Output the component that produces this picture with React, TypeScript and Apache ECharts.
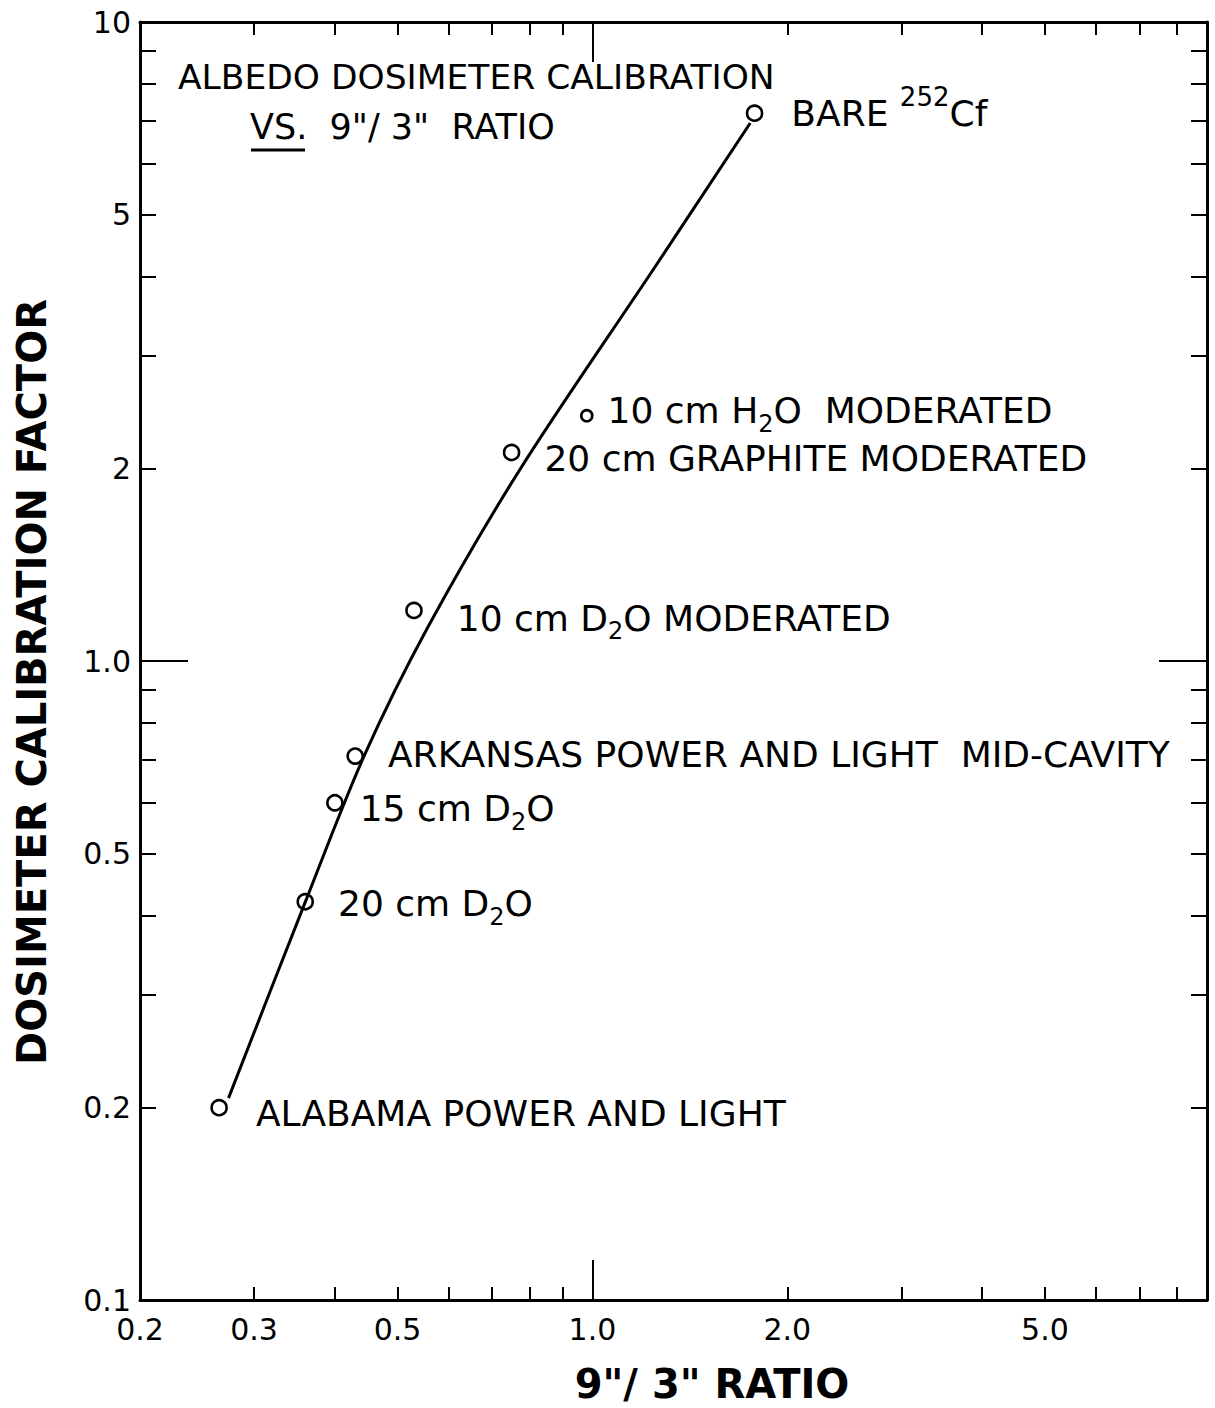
import React, { useEffect, useRef } from "react";
import * as echarts from "echarts";

const FONT = "DejaVu Sans";
const INK = "#000";

const X_MIN = 0.2;
const X_MAX = 8.9;
const Y_MIN = 0.1;
const Y_MAX = 10;

const xLabelValues = [0.2, 0.3, 0.5, 1, 2, 5];
const xLabelTexts = ["0.2", "0.3", "0.5", "1.0", "2.0", "5.0"];
const xMinorTicks = [0.3, 0.4, 0.5, 0.6, 0.7, 0.8, 0.9, 2, 3, 4, 5, 6, 7, 8];
const xMajorTicks = [1];

const yLabelValues = [0.1, 0.2, 0.5, 1, 2, 5, 10];
const yLabelTexts = ["0.1", "0.2", "0.5", "1.0", "2", "5", "10"];
const yMinorTicks = [0.2, 0.3, 0.4, 0.5, 0.6, 0.7, 0.8, 0.9, 2, 3, 4, 5, 6, 7, 8, 9];
const yMajorTicks = [1];

// measured points (9"/3" ratio, calibration factor)
const pointX = [1.78, 0.98, 0.75, 0.53, 0.43, 0.40, 0.36, 0.265];
const pointY = [7.2, 2.42, 2.12, 1.2, 0.71, 0.60, 0.42, 0.20];
const pointLabels = [
  "{t|BARE }{sp|252}{t|Cf}",
  "{t|10 cm H}{sb|2}{t|O  MODERATED}",
  "{t|20 cm GRAPHITE MODERATED}",
  "{t|10 cm D}{sb|2}{t|O MODERATED}",
  "{t|ARKANSAS POWER AND LIGHT  MID-CAVITY}",
  "{t|15 cm D}{sb|2}{t|O}",
  "{t|20 cm D}{sb|2}{t|O}",
  "{t|ALABAMA POWER AND LIGHT}",
];

// hand-drawn fitted curve
const curveX = [0.274, 0.361, 0.443, 0.557, 0.777, 1.249, 1.753];
const curveY = [0.207, 0.4225, 0.707, 1.13, 2.012, 4.136, 6.95];

// label styling (kept apart from data)
const pointSizes = [15, 11, 15, 15, 15, 15, 15, 15];
const labelDistance = [28, 14, 24, 34, 24, 16, 24, 28];
const labelDy = [0, -5, 6, 8, -2, 6, 2, 6];

function findText(values: number[], texts: string[], v: number) {
  for (let i = 0; i < values.length; i++) {
    if (Math.abs(values[i] - v) / values[i] < 1e-4) return texts[i];
  }
  return "";
}

function xAxisDef(position: string, ticks: number[], len: number, showLabel: boolean, showLine: boolean) {
  return {
    type: "log",
    logBase: 10,
    min: X_MIN,
    max: X_MAX,
    position,
    gridIndex: 0,
    axisLine: { show: showLine, lineStyle: { color: INK, width: 3 } },
    axisTick: { show: true, inside: true, length: len, customValues: ticks, lineStyle: { color: INK, width: 2 } },
    axisLabel: {
      show: showLabel,
      customValues: xLabelValues,
      margin: 14,
      fontFamily: FONT,
      fontSize: 30,
      color: INK,
      formatter: (v: number) => findText(xLabelValues, xLabelTexts, v),
    },
    splitLine: { show: false },
    minorTick: { show: false },
  };
}

function yAxisDef(position: string, ticks: number[], len: number, showLabel: boolean, showLine: boolean) {
  return {
    type: "log",
    logBase: 10,
    min: Y_MIN,
    max: Y_MAX,
    position,
    gridIndex: 0,
    axisLine: { show: showLine, lineStyle: { color: INK, width: 3 } },
    axisTick: { show: true, inside: true, length: len, customValues: ticks, lineStyle: { color: INK, width: 2 } },
    axisLabel: {
      show: showLabel,
      customValues: yLabelValues,
      margin: 9,
      fontFamily: FONT,
      fontSize: 30,
      color: INK,
      formatter: (v: number) => findText(yLabelValues, yLabelTexts, v),
    },
    splitLine: { show: false },
    minorTick: { show: false },
  };
}

const rich = {
  t: { fontFamily: FONT, fontSize: 36, color: INK, lineHeight: 38, verticalAlign: "middle" },
  sb: { fontFamily: FONT, fontSize: 24, color: INK, lineHeight: 10, verticalAlign: "middle", padding: [26, 0, 0, 0] },
  sp: { fontFamily: FONT, fontSize: 26, color: INK, lineHeight: 10, verticalAlign: "middle", padding: [0, 0, 32, 0] },
};

export default function App() {
  const ref = useRef<HTMLDivElement>(null);
  useEffect(() => {
    if (!ref.current) return;
    const chart = echarts.init(ref.current, null, { renderer: "svg" });
    const option: any = {
      animation: false,
      backgroundColor: "#fff",
      grid: { left: 140, top: 22, right: 8, bottom: 108, containLabel: false, outerBoundsMode: "none" },
      xAxis: [
        xAxisDef("bottom", xMinorTicks, 13, true, true),
        xAxisDef("top", xMinorTicks, 13, false, true),
        xAxisDef("bottom", xMajorTicks, 40, false, false),
        xAxisDef("top", xMajorTicks, 40, false, false),
      ],
      yAxis: [
        yAxisDef("left", yMinorTicks, 16, true, true),
        yAxisDef("right", yMinorTicks, 16, false, true),
        yAxisDef("left", yMajorTicks, 48, false, false),
        yAxisDef("right", yMajorTicks, 48, false, false),
      ],
      series: [
        {
          type: "line",
          xAxisIndex: 0,
          yAxisIndex: 0,
          data: curveX.map((x, i) => [x, curveY[i]]),
          smooth: 0.3,
          showSymbol: false,
          symbol: "none",
          lineStyle: { color: INK, width: 3 },
          z: 2,
        },
        {
          type: "scatter",
          xAxisIndex: 0,
          yAxisIndex: 0,
          symbol: "circle",
          itemStyle: { color: "rgba(0,0,0,0)", borderColor: INK, borderWidth: 2.6, opacity: 1 },
          z: 3,
          data: pointX.map((x, i) => ({
            value: [x, pointY[i]],
            symbolSize: pointSizes[i],
            label: {
              show: true,
              position: "right",
              distance: labelDistance[i],
              offset: [0, labelDy[i]],
              formatter: pointLabels[i],
              color: INK,
              opacity: 1,
              fontFamily: FONT,
              fontSize: 36,
              rich,
            },
          })),
        },
      ],
      graphic: [
        {
          type: "text",
          left: 178,
          top: 59,
          style: { text: "ALBEDO DOSIMETER CALIBRATION", fontFamily: FONT, fontSize: 34.5, fill: INK },
        },
        {
          type: "text",
          left: 250,
          top: 109,
          style: { text: 'VS.  9"/ 3"  RATIO', fontFamily: FONT, fontSize: 35, fill: INK },
        },
        {
          type: "line",
          shape: { x1: 251, y1: 150, x2: 305, y2: 150 },
          style: { stroke: INK, lineWidth: 3 },
        },
        {
          type: "text",
          x: 712,
          y: 1384,
          style: {
            text: '9"/ 3" RATIO',
            fontFamily: FONT,
            fontSize: 40,
            fontWeight: "bold",
            fill: INK,
            align: "center",
            verticalAlign: "middle",
          },
        },
        {
          type: "text",
          x: 32,
          y: 682,
          rotation: Math.PI / 2,
          style: {
            text: "DOSIMETER CALIBRATION FACTOR",
            fontFamily: FONT,
            fontSize: 40,
            fontWeight: "bold",
            fill: INK,
            align: "center",
            verticalAlign: "middle",
          },
        },
      ],
    };
    chart.setOption(option);
    return () => chart.dispose();
  }, []);
  return (
    <div
      ref={ref}
      style={{ position: "absolute", left: 0, top: 0, width: 1215, height: 1408, background: "#fff" }}
    />
  );
}
